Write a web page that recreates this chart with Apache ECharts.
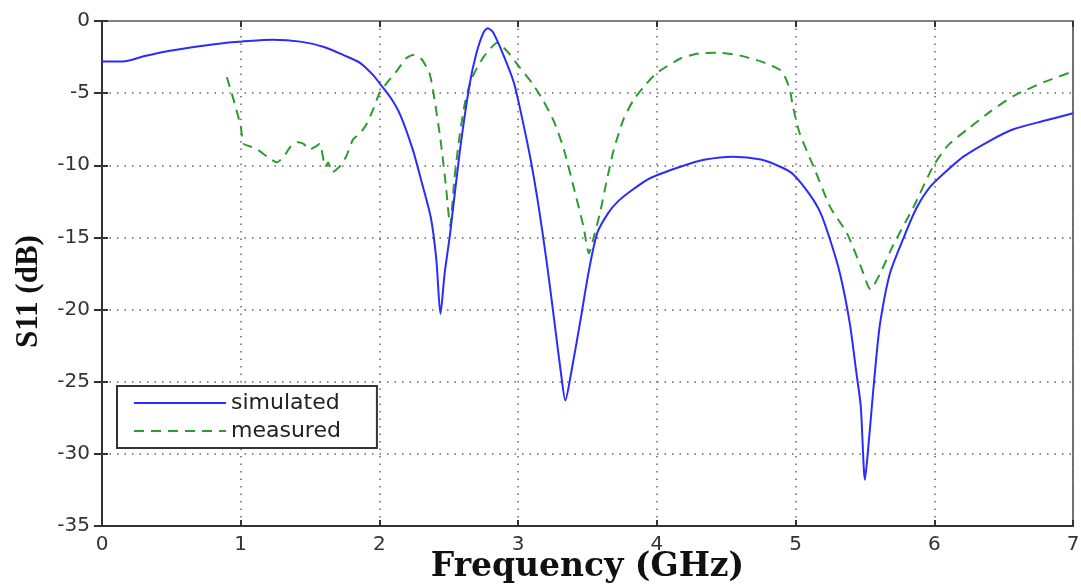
<!DOCTYPE html>
<html>
<head>
<meta charset="utf-8">
<script src="https://cdn.jsdelivr.net/npm/echarts@6/dist/echarts.min.js"></script>
<style>
html,body{margin:0;padding:0;background:#fff;}
#chart{width:1081px;height:585px;}
</style>
</head>
<body>
<div id="chart"></div>
<script>
// Simulated S11 (GHz, dB)
var simX = [0, 0.15, 0.3, 0.5, 0.7, 0.9, 1.0, 1.23, 1.43, 1.6, 1.75, 1.86, 1.95, 2.0, 2.08, 2.15, 2.24, 2.3, 2.37, 2.41, 2.44, 2.47, 2.51, 2.58, 2.65, 2.7, 2.75, 2.78, 2.82, 2.9, 2.97, 3.03, 3.09, 3.15, 3.21, 3.27, 3.31, 3.34, 3.38, 3.45, 3.51, 3.57, 3.65, 3.72, 3.81, 3.95, 4.17, 4.35, 4.55, 4.75, 4.89, 4.98, 5.1, 5.18, 5.25, 5.32, 5.39, 5.44, 5.47, 5.5, 5.52, 5.55, 5.58, 5.61, 5.68, 5.78, 5.87, 5.97, 6.1, 6.21, 6.4, 6.57, 6.8, 7.0];
var simY = [-2.8, -2.8, -2.45, -2.05, -1.75, -1.5, -1.43, -1.3, -1.43, -1.8, -2.4, -2.9, -3.7, -4.3, -5.3, -6.5, -8.9, -11.0, -13.6, -16.5, -20.3, -17.5, -14.7, -9.0, -4.4, -2.2, -0.8, -0.5, -0.8, -2.5, -4.3, -6.8, -9.6, -13.0, -17.0, -21.5, -24.5, -26.3, -24.5, -20.7, -17.3, -14.7, -13.3, -12.5, -11.8, -10.9, -10.1, -9.6, -9.4, -9.6, -10.1, -10.6, -12.0, -13.3, -15.2, -17.5, -20.9, -24.5, -26.7, -31.8, -30.0, -26.7, -23.5, -20.9, -17.5, -15.0, -13.0, -11.5, -10.3, -9.4, -8.3, -7.5, -6.9, -6.4];
// Measured S11 (GHz, dB)
var measX = [0.9, 0.95, 1.0, 1.02, 1.07, 1.12, 1.19, 1.26, 1.31, 1.36, 1.41, 1.45, 1.5, 1.54, 1.57, 1.61, 1.63, 1.66, 1.69, 1.72, 1.76, 1.81, 1.86, 1.91, 1.96, 2.0, 2.07, 2.13, 2.19, 2.24, 2.3, 2.36, 2.39, 2.44, 2.48, 2.51, 2.54, 2.58, 2.62, 2.67, 2.75, 2.85, 2.93, 3.01, 3.1, 3.18, 3.26, 3.33, 3.4, 3.47, 3.51, 3.55, 3.59, 3.64, 3.69, 3.76, 3.83, 3.92, 4.0, 4.17, 4.3, 4.45, 4.6, 4.75, 4.89, 4.93, 4.96, 4.98, 5.03, 5.13, 5.25, 5.37, 5.47, 5.54, 5.61, 5.7, 5.85, 5.99, 6.1, 6.24, 6.4, 6.57, 6.8, 7.0];
var measY = [-3.9, -5.5, -7.3, -8.5, -8.7, -8.9, -9.4, -9.8, -9.4, -8.7, -8.4, -8.5, -8.9, -8.7, -8.5, -10.1, -9.8, -10.5, -10.3, -10.0, -9.4, -8.2, -7.8, -7.1, -6.0, -5.0, -4.1, -3.4, -2.6, -2.35, -2.6, -3.6, -5.0, -8.2, -11.5, -14.2, -11.0, -7.8, -5.5, -3.9, -2.5, -1.5, -2.2, -3.2, -4.3, -5.5, -7.0, -8.9, -11.5, -14.2, -16.1, -14.8, -13.3, -11.0, -8.9, -6.8, -5.5, -4.4, -3.6, -2.6, -2.25, -2.2, -2.4, -2.8, -3.4, -4.0, -4.8, -5.9, -7.8, -10.1, -12.9, -14.7, -17.0, -18.6, -17.5, -15.6, -12.9, -10.1, -8.6, -7.5, -6.3, -5.2, -4.2, -3.5];
var seriesNames = ['simulated', 'measured'];
var xTitle = 'Frequency (GHz)';
var yTitle = 'S11 (dB)';

function pairs(xs, ys) { return xs.map(function (x, i) { return [x, ys[i]]; }); }

var tickFont = { fontFamily: 'DejaVu Sans', fontSize: 20, color: '#333' };
var gridLine = { show: true, lineStyle: { color: '#666', width: 1.5, type: [1.5, 6] } };

var chart = echarts.init(document.getElementById('chart'), null, { renderer: 'canvas' });
chart.setOption({
  animation: false,
  backgroundColor: '#fff',
  grid: { left: 102, right: 8, top: 21, bottom: 59, containLabel: false, outerBoundsMode: 'none', show: true, borderColor: '#444', borderWidth: 1.5, backgroundColor: 'transparent' },
  legend: {
    orient: 'vertical', left: 117, top: 386,
    data: seriesNames,
    itemWidth: 92, itemHeight: 20, itemGap: 6,
    padding: [6, 36, 6, 16],
    itemStyle: { opacity: 0 },
    borderColor: '#333', borderWidth: 2, backgroundColor: '#fff',
    textStyle: { fontFamily: 'DejaVu Sans', fontSize: 22, color: '#222' }
  },
  xAxis: [{
    type: 'value', min: 0, max: 7, interval: 1,
    name: xTitle, nameLocation: 'middle', nameGap: 25, nameMoveOverlap: false,
    nameTextStyle: { fontFamily: 'DejaVu Serif', fontWeight: 'bold', fontSize: 33, color: '#111' },
    axisLine: { show: true, onZero: false, lineStyle: { color: '#333', width: 2 } },
    axisTick: { show: true, inside: true, length: 6, lineStyle: { color: '#333', width: 2 } },
    axisLabel: Object.assign({ margin: 9 }, tickFont),
    splitLine: gridLine
  }, {
    type: 'value', min: 0, max: 7, interval: 1, position: 'top',
    axisLine: { show: true, lineStyle: { color: '#888', width: 1.5 } },
    axisTick: { show: true, inside: true, length: 6, lineStyle: { color: '#333', width: 2 } },
    axisLabel: { show: false }, splitLine: { show: false }
  }],
  yAxis: [{
    type: 'value', min: -35, max: 0, interval: 5,
    name: yTitle, nameLocation: 'middle', nameGap: 58, nameMoveOverlap: false,
    nameTextStyle: { fontFamily: 'Liberation Serif', fontWeight: 'bold', fontSize: 31, color: '#111', padding: [0, 36, 0, 0] },
    axisLine: { show: true, onZero: false, lineStyle: { color: '#333', width: 2 } },
    axisTick: { show: true, inside: true, length: 6, lineStyle: { color: '#333', width: 2 } },
    axisLabel: Object.assign({ margin: 12 }, tickFont),
    splitLine: gridLine
  }, {
    type: 'value', min: -35, max: 0, interval: 5, position: 'right',
    axisLine: { show: true, lineStyle: { color: '#333', width: 2 } },
    axisTick: { show: true, inside: true, length: 8, lineStyle: { color: '#333', width: 2 } },
    axisLabel: { show: false }, splitLine: { show: false }
  }],
  series: [{
    name: seriesNames[0], type: 'line', xAxisIndex: 0, yAxisIndex: 0,
    data: pairs(simX, simY), showSymbol: false, symbol: 'none', smooth: 0.25,
    lineStyle: { color: '#2b2bff', width: 2 }, itemStyle: { color: '#2b2bff' }, z: 3
  }, {
    name: seriesNames[1], type: 'line', xAxisIndex: 0, yAxisIndex: 0,
    data: pairs(measX, measY), showSymbol: false, symbol: 'none', smooth: 0.2,
    lineStyle: { color: '#2f9a2f', width: 2, type: [10, 7] }, itemStyle: { color: '#2f9a2f' }, z: 2
  }]
});
</script>
</body>
</html>
